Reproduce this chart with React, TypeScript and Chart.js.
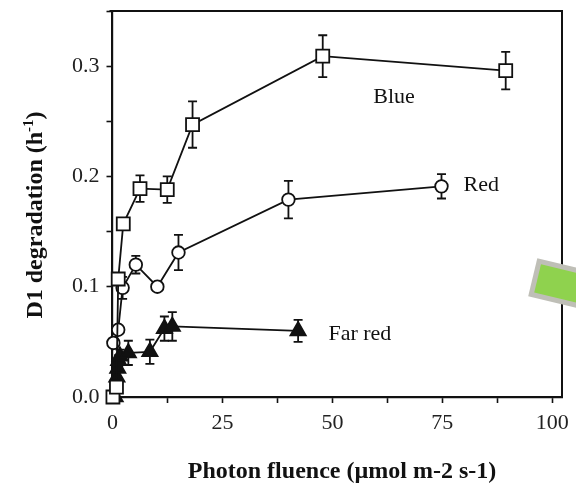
import React, { useEffect, useRef } from "react";
import { Chart, registerables } from "chart.js";

Chart.register(...registerables);

// ---- data ----
const blueX = [0.1, 0.9, 1.3, 2.45, 6.25, 12.45, 18.2, 47.8, 89.4];
const blueY = [0.0, 0.009, 0.107, 0.157, 0.189, 0.188, 0.247, 0.309, 0.296];
const blueErr = [0, 0, 0, 0, 0.012, 0.012, 0.021, 0.019, 0.017];

const redX = [0.2, 1.3, 2.3, 5.3, 10.2, 15.0, 40.0, 74.8];
const redY = [0.049, 0.061, 0.099, 0.12, 0.1, 0.131, 0.179, 0.191];
const redErr = [0, 0, 0.01, 0.008, 0, 0.016, 0.017, 0.011];

const farRedX = [0.6, 1.0, 1.2, 1.4, 1.7, 3.6, 8.5, 11.8, 13.6, 42.2];
const farRedY = [0.0, 0.018, 0.026, 0.033, 0.037, 0.04, 0.041, 0.062, 0.064, 0.06];
const farRedErr = [0, 0, 0, 0.005, 0.006, 0.011, 0.011, 0.011, 0.013, 0.01];

const seriesLabels = ["Blue", "Red", "Far red"];
const xTitle = "Photon fluence (µmol m-2 s-1)";
const yTitleMain = "D1 degradation (h";
const yTitleSup = "-1";
const yTitleEnd = ")";

const X_MIN = 0;
const X_MAX = 102.2;
const Y_MIN = 0;
const Y_MAX = 0.35;

const INK = "#111";
const SERIF = "'Liberation Serif', serif";

const toPts = (xs: number[], ys: number[]) => xs.map((x, i) => ({ x, y: ys[i] }));

const errors: { xs: number[]; ys: number[]; es: number[] }[] = [
  { xs: blueX, ys: blueY, es: blueErr },
  { xs: redX, ys: redY, es: redErr },
  { xs: farRedX, ys: farRedY, es: farRedErr },
];

const decorPlugin = {
  id: "decor",
  beforeDatasetsDraw(chart: any) {
    const ctx = chart.ctx;
    const xs = chart.scales.x;
    const ys = chart.scales.y;
    ctx.save();
    ctx.strokeStyle = INK;
    ctx.lineWidth = 1.8;
    errors.forEach((s) => {
      s.xs.forEach((xv, i) => {
        const e = s.es[i];
        if (!e) return;
        const px = xs.getPixelForValue(xv);
        const top = ys.getPixelForValue(s.ys[i] + e);
        const bot = ys.getPixelForValue(s.ys[i] - e);
        ctx.beginPath();
        ctx.moveTo(px, top);
        ctx.lineTo(px, bot);
        ctx.moveTo(px - 4.5, top);
        ctx.lineTo(px + 4.5, top);
        ctx.moveTo(px - 4.5, bot);
        ctx.lineTo(px + 4.5, bot);
        ctx.stroke();
      });
    });
    ctx.restore();
  },
  afterDraw(chart: any) {
    const ctx = chart.ctx;
    const a = chart.chartArea;
    ctx.save();
    // frame top & right
    ctx.strokeStyle = INK;
    ctx.lineWidth = 2;
    ctx.beginPath();
    ctx.moveTo(a.left - 3, a.top);
    ctx.lineTo(a.right, a.top);
    ctx.lineTo(a.right, a.bottom);
    ctx.stroke();

    // series labels
    ctx.fillStyle = INK;
    ctx.font = `22px ${SERIF}`;
    ctx.textAlign = "left";
    ctx.textBaseline = "alphabetic";
    const xs = chart.scales.x;
    const ys = chart.scales.y;
    ctx.fillText(seriesLabels[0], xs.getPixelForValue(59.3), ys.getPixelForValue(0.267));
    ctx.fillText(seriesLabels[1], xs.getPixelForValue(79.8), ys.getPixelForValue(0.187));
    ctx.fillText(seriesLabels[2], xs.getPixelForValue(49.1), ys.getPixelForValue(0.052));

    // x title
    ctx.font = `bold 24px ${SERIF}`;
    ctx.textAlign = "center";
    ctx.fillText(xTitle, 342, 478);

    // y title with superscript
    ctx.translate(42, 215);
    ctx.rotate(-Math.PI / 2);
    ctx.textAlign = "left";
    ctx.font = `bold 24px ${SERIF}`;
    const w1 = ctx.measureText(yTitleMain).width;
    const w3 = ctx.measureText(yTitleEnd).width;
    ctx.font = `bold 15px ${SERIF}`;
    const w2 = ctx.measureText(yTitleSup).width;
    const total = w1 + w2 + w3;
    let cx = -total / 2;
    ctx.font = `bold 24px ${SERIF}`;
    ctx.fillText(yTitleMain, cx, 0);
    cx += w1;
    ctx.font = `bold 15px ${SERIF}`;
    ctx.fillText(yTitleSup, cx, -9);
    cx += w2;
    ctx.font = `bold 24px ${SERIF}`;
    ctx.fillText(yTitleEnd, cx, 0);
    ctx.setTransform(1, 0, 0, 1, 0, 0);

    // green note at right edge
    ctx.translate(537.3, 258.3);
    ctx.rotate((13.5 * Math.PI) / 180);
    ctx.fillStyle = "#bfbfb7";
    ctx.fillRect(0, 0, 80, 39);
    ctx.fillStyle = "#8fd24e";
    ctx.fillRect(5, 5, 70, 29);
    ctx.restore();
  },
};

const zeroPad = (s: any) => {
  s.paddingTop = 0;
  s.paddingBottom = 0;
  s.paddingLeft = 0;
  s.paddingRight = 0;
};

export default function App() {
  const ref = useRef<HTMLCanvasElement | null>(null);
  useEffect(() => {
    if (!ref.current) return;
    const common = {
      borderColor: INK,
      borderWidth: 1.8,
      pointBorderColor: INK,
      pointBorderWidth: 1.8,
      showLine: true,
      clip: false as any,
    };
    const chart = new Chart(ref.current, {
      type: "scatter",
      data: {
        datasets: [
          {
            ...common,
            label: seriesLabels[0],
            data: toPts(blueX, blueY),
            pointStyle: "rect",
            pointRadius: 9.2,
            pointBackgroundColor: "#fff",
          },
          {
            ...common,
            label: seriesLabels[1],
            data: toPts(redX, redY),
            pointStyle: "circle",
            pointRadius: 6.3,
            pointBackgroundColor: "#fff",
          },
          {
            ...common,
            label: seriesLabels[2],
            data: toPts(farRedX, farRedY),
            pointStyle: "triangle",
            pointRadius: 8.8,
            pointBackgroundColor: INK,
          },
        ],
      },
      options: {
        animation: false,
        responsive: false,
        devicePixelRatio: 1,
        layout: { padding: { left: 0, top: 9, right: 14, bottom: 0 } },
        plugins: { legend: { display: false }, tooltip: { enabled: false } },
        scales: {
          x: {
            type: "linear",
            min: X_MIN,
            max: X_MAX,
            afterFit: (s: any) => {
              s.height = 86;
              zeroPad(s);
            },
            border: { display: true, color: INK, width: 2.2 },
            grid: {
              display: true,
              drawOnChartArea: false,
              drawTicks: true,
              tickLength: 6,
              tickColor: INK,
              tickWidth: 1.6,
            },
            ticks: {
              stepSize: 12.5,
              includeBounds: false,
              autoSkip: false,
              maxRotation: 0,
              padding: 7,
              color: "#222",
              font: { family: SERIF, size: 22 },
              callback: (v: any) => (Math.abs(v % 25) < 1e-6 ? String(v) : ""),
            },
          },
          y: {
            type: "linear",
            min: Y_MIN,
            max: Y_MAX,
            afterFit: (s: any) => {
              s.width = 112.5;
              zeroPad(s);
            },
            border: { display: true, color: INK, width: 2.2 },
            grid: {
              display: true,
              drawOnChartArea: false,
              drawTicks: true,
              tickLength: 6,
              tickColor: INK,
              tickWidth: 1.6,
            },
            ticks: {
              stepSize: 0.05,
              includeBounds: false,
              autoSkip: false,
              padding: 7,
              color: "#222",
              font: { family: SERIF, size: 22 },
              callback: (v: any) => {
                const k = Math.round(v * 100);
                if (k % 10 !== 0 || k > 30) return "";
                return (k / 100).toFixed(1);
              },
            },
          },
        },
      },
      plugins: [decorPlugin],
    });
    return () => chart.destroy();
  }, []);
  return (
    <div style={{ position: "absolute", left: 0, top: 0, width: 576, height: 483, background: "#fff" }}>
      <canvas ref={ref} width={576} height={483} />
    </div>
  );
}
